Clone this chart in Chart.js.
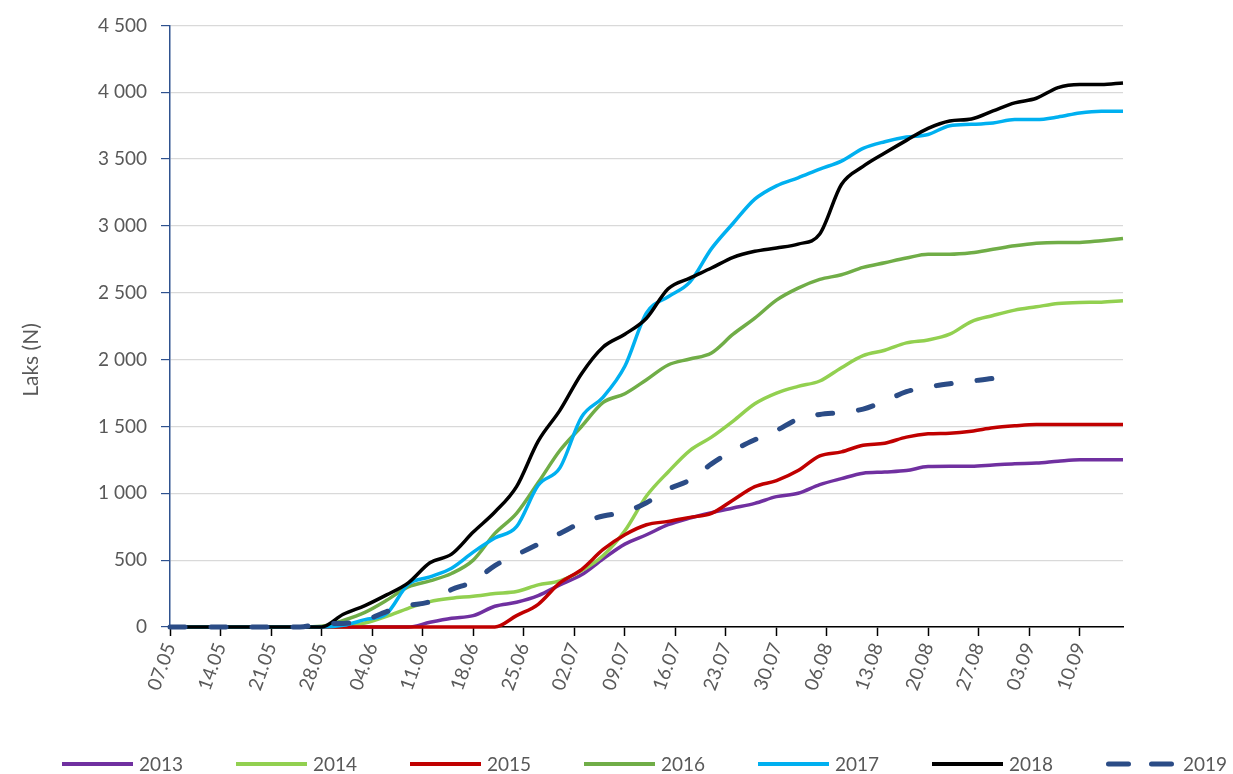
<!DOCTYPE html>
<html>
<head>
<meta charset="utf-8">
<script src="https://cdn.jsdelivr.net/npm/chart.js@4.4.1/dist/chart.umd.min.js"></script>
<style>
  html, body { margin: 0; padding: 0; background: #fff; }
  #wrap { width: 1233px; height: 774px; position: relative; }
</style>
</head>
<body>
<div id="wrap"><canvas id="laks"></canvas></div>
<script>
'use strict';

// days counted from 07.05
var days = [0, 3, 6, 9, 12, 15, 18, 21, 24, 27, 30, 33, 36, 39, 42, 45, 48, 51, 54, 57, 60, 63,
  66, 69, 72, 75, 78, 81, 84, 87, 90, 93, 96, 99, 102, 105, 108, 111, 114, 117, 120, 123, 126, 129, 132];

var years = ['2013', '2014', '2015', '2016', '2017', '2018', '2019'];

var laks2013 = [0, 0, 0, 0, 0, 0, 0, 0, 0, 0, 0, 0, 35, 65, 85, 155, 185, 235, 315, 390, 510, 620,
  690, 765, 815, 855, 890, 925, 975, 1000, 1065, 1110, 1150, 1159, 1170, 1200, 1202, 1202, 1212, 1222, 1226, 1240, 1251, 1251, 1251];
var laks2014 = [0, 0, 0, 0, 0, 0, 0, 0, 0, 30, 80, 140, 190, 215, 230, 250, 265, 315, 345, 420, 535, 720,
  980, 1160, 1320, 1420, 1540, 1670, 1750, 1800, 1840, 1940, 2030, 2070, 2125, 2147, 2190, 2285, 2330, 2370, 2395, 2420, 2428, 2430, 2440];
var laks2015 = [0, 0, 0, 0, 0, 0, 0, 0, 0, 0, 0, 0, 0, 0, 0, 0, 85, 170, 330, 430, 580, 690,
  765, 790, 820, 850, 950, 1050, 1095, 1170, 1280, 1310, 1360, 1375, 1420, 1445, 1450, 1465, 1490, 1505, 1515, 1515, 1515, 1515, 1515];
var laks2016 = [0, 0, 0, 0, 0, 0, 0, 5, 50, 110, 200, 300, 345, 400, 500, 700, 850, 1080, 1320, 1500, 1680, 1745,
  1850, 1960, 2005, 2050, 2190, 2310, 2445, 2535, 2600, 2635, 2690, 2725, 2760, 2789, 2789, 2800, 2825, 2851, 2870, 2876, 2876, 2890, 2906];
var laks2017 = [0, 0, 0, 0, 0, 0, 0, 0, 12, 55, 100, 320, 375, 440, 560, 665, 750, 1060, 1190, 1570, 1720, 1950,
  2350, 2470, 2580, 2830, 3020, 3200, 3300, 3360, 3425, 3485, 3580, 3630, 3665, 3684, 3750, 3760, 3770, 3796, 3796, 3815, 3845, 3858, 3858];
var laks2018 = [0, 0, 0, 0, 0, 0, 0, 0, 95, 160, 240, 330, 480, 545, 710, 860, 1050, 1390, 1620, 1895, 2095, 2190,
  2310, 2530, 2610, 2685, 2765, 2810, 2835, 2864, 2940, 3310, 3445, 3545, 3640, 3730, 3785, 3800, 3860, 3920, 3955, 4035, 4058, 4058, 4070];
var laks2019 = [0, 0, 0, 0, 0, 0, 0, 25, 27, 50, 115, 160, 190, 280, 340, 460, 540, 620, 700, 780, 830, 860,
  930, 1030, 1100, 1220, 1320, 1400, 1470, 1555, 1590, 1605, 1630, 1690, 1760, 1795, 1820, 1840, 1860, 1895, null, null, null, null, null];

var yTicks = [0, 500, 1000, 1500, 2000, 2500, 3000, 3500, 4000, 4500];

var series = [laks2013, laks2014, laks2015, laks2016, laks2017, laks2018, laks2019];
var colors = ['#7030A0', '#92D050', '#C00000', '#70AD47', '#00B0F0', '#000000', '#2B4C86'];

var toPoints = function (values) {
  return days.map(function (d, i) {
    return { x: d, y: values[i] };
  });
};

var dayLabel = function (d) {
  var dt = new Date(Date.UTC(2019, 4, 7 + d));
  var dd = ('0' + dt.getUTCDate()).slice(-2);
  var mm = ('0' + (dt.getUTCMonth() + 1)).slice(-2);
  return dd + '.' + mm;
};

var datasets = years.map(function (year, i) {
  var dashed = year === '2019';
  return {
    label: year,
    data: toPoints(series[i]),
    borderColor: colors[i],
    backgroundColor: colors[i],
    borderWidth: dashed ? 5 : 3.5,
    borderDash: dashed ? [15, 26] : [],
    borderCapStyle: dashed ? 'round' : 'butt',
    pointRadius: 0,
    cubicInterpolationMode: 'monotone',
    spanGaps: false,
    clip: 6,
    order: years.length - i
  };
});

// legend along the bottom and the y title, drawn by hand
var extras = {
  id: 'extras',
  afterDraw: function (chart) {
    var ctx = chart.ctx;

    ctx.save();
    ctx.fillStyle = '#595959';
    ctx.font = '21px Lato';
    ctx.textAlign = 'center';
    ctx.textBaseline = 'middle';
    ctx.translate(31, 360);
    ctx.rotate(-Math.PI / 2);
    ctx.fillText('Laks (N)', 0, 0);
    ctx.restore();

    chart.data.datasets.forEach(function (ds, i) {
      var x0 = 62 + i * 174;
      var y = 764;
      ctx.save();
      ctx.strokeStyle = ds.borderColor;
      ctx.lineWidth = ds.label === '2019' ? 5 : 4;
      ctx.lineCap = ds.label === '2019' ? 'round' : 'butt';
      ctx.setLineDash(ds.label === '2019' ? [20, 23] : []);
      ctx.beginPath();
      if (ds.label === '2019') {
        ctx.moveTo(x0 + 2.5, y);
        ctx.lineTo(x0 + 66, y);
      } else {
        ctx.moveTo(x0, y);
        ctx.lineTo(x0 + 71, y);
      }
      ctx.stroke();
      ctx.restore();

      ctx.save();
      ctx.fillStyle = '#595959';
      ctx.font = '19px Lato';
      ctx.textAlign = 'left';
      ctx.textBaseline = 'middle';
      ctx.fillText(ds.label, x0 + 77, y + 1);
      ctx.restore();
    });
  }
};

Chart.defaults.font.family = 'Lato';
Chart.defaults.font.size = 19;
Chart.defaults.color = '#595959';

new Chart(document.getElementById('laks'), {
  type: 'line',
  data: { datasets: datasets },
  plugins: [extras],
  options: {
    responsive: true,
    maintainAspectRatio: false,
    animation: false,
    layout: { padding: { left: 0, right: 110, top: 24, bottom: 0 } },
    plugins: {
      legend: { display: false },
      tooltip: { enabled: false }
    },
    scales: {
      x: {
        type: 'linear',
        min: 0,
        max: 132,
        afterFit: function (scale) { scale.height = 147; },
        grid: {
          drawOnChartArea: false,
          drawTicks: true,
          tickLength: 9,
          tickColor: '#000000',
          tickWidth: 1.5
        },
        border: { color: '#000000', width: 1.5 },
        ticks: {
          stepSize: 7,
          includeBounds: false,
          autoSkip: false,
          minRotation: 70,
          maxRotation: 70,
          padding: 4,
          color: '#595959',
          callback: function (v) { return dayLabel(v); }
        }
      },
      y: {
        min: yTicks[0],
        max: yTicks[yTicks.length - 1],
        afterFit: function (scale) { scale.width = 170; },
        afterBuildTicks: function (scale) {
          scale.ticks = yTicks.map(function (v) { return { value: v }; });
        },
        grid: {
          color: '#D9D9D9',
          lineWidth: 1.2,
          tickLength: 9,
          tickColor: '#2F528F'
        },
        border: { color: '#2F528F', width: 1.5 },
        ticks: {
          padding: 14,
          color: '#595959',
          callback: function (v) {
            return String(v).replace(/\B(?=(\d{3})+(?!\d))/g, ' ');
          }
        }
      }
    }
  }
});
</script>
</body>
</html>
